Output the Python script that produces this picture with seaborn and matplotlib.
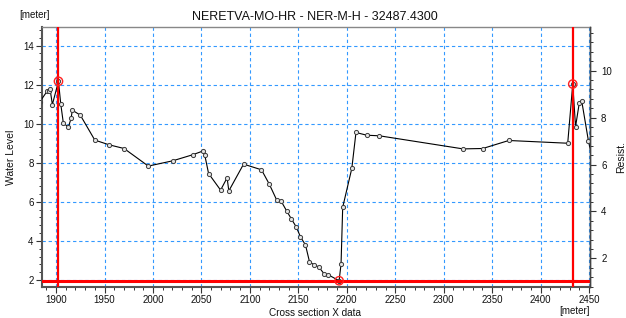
import matplotlib
matplotlib.use('Agg')
import matplotlib.pyplot as plt
import seaborn as sns
import pandas as pd
from matplotlib.ticker import MultipleLocator

# ---- data ----
station_x = [1883, 1891, 1893, 1893.8, 1896.2, 1902.5, 1904.8, 1907.5, 1912.7, 1915.5,
             1916.8, 1925, 1940, 1954.7, 1970.2, 1995.2, 2020.4, 2041, 2052, 2053.4,
             2057.4, 2069.8, 2076.5, 2078.3, 2093.5, 2112, 2120.1, 2127.7, 2132.2, 2138,
             2142.9, 2147.8, 2152.2, 2157.4, 2161.5, 2166.7, 2170.9, 2177, 2181.1, 2192.1,
             2194.1, 2195.8, 2205.2, 2209.5, 2220.6, 2233.7, 2320, 2340.3, 2367.2, 2428,
             2433.2, 2436.1, 2440, 2442.5, 2449.4, 2453]
elevation = [11.1, 11.68, 11.68, 11.78, 10.98, 12.17, 11.03, 10.04, 9.82, 10.27,
             10.69, 10.44, 9.16, 8.92, 8.73, 7.83, 8.10, 8.41, 8.61, 8.41,
             7.45, 6.60, 7.23, 6.56, 7.93, 7.64, 6.90, 6.09, 6.04, 5.53,
             5.12, 4.72, 4.21, 3.79, 2.94, 2.75, 2.68, 2.29, 2.26, 1.96,
             2.82, 5.72, 7.71, 9.55, 9.41, 9.38, 8.71, 8.73, 9.14, 9.0,
             12.03, 9.85, 11.08, 11.15, 9.11, 8.3]
marker_x = [1902.5, 2192.1, 2433.2]
marker_y = [12.17, 1.96, 12.03]
bank_x = [1902.4, 2433.2]
water_level = [1.95]
x_ticks = [1900, 1950, 2000, 2050, 2100, 2150, 2200, 2250, 2300, 2350, 2400, 2450]
y_ticks = [2, 4, 6, 8, 10, 12, 14]
resist_ticks = [2, 4, 6, 8, 10]
title = "NERETVA-MO-HR - NER-M-H - 32487.4300"

df = pd.DataFrame({"x": station_x, "z": elevation})

sns.set_theme(style="white")
plt.rcParams['font.family'] = ['Liberation Sans', 'DejaVu Sans']

W, H = 626, 318
fig = plt.figure(figsize=(W / 100, H / 100), dpi=100)
fig.patch.set_facecolor('white')
L, R, T, B = 42, 590, 27, 287
ax = fig.add_axes([L / W, 1 - B / H, (R - L) / W, (B - T) / H])
ax.set_facecolor('white')

ax.set_xlim(1885.5, 2451)
ax.set_ylim(1.64, 14.95)
ax.set_xticks(x_ticks)
ax.set_yticks(y_ticks)
ax.xaxis.set_minor_locator(MultipleLocator(10))
ax.yaxis.set_minor_locator(MultipleLocator(0.4))
ax.grid(True, which='major', color='#3399ff', linestyle=(0, (3, 2.5)), linewidth=0.8, zorder=0)
ax.set_axisbelow(True)

sns.lineplot(data=df, x="x", y="z", ax=ax, sort=False, estimator=None,
             color='black', linewidth=0.8, marker='o', markersize=3.0,
             markerfacecolor='#e4e4e4', markeredgecolor='#3a3a3a',
             markeredgewidth=0.7, zorder=3)

for bx in bank_x:
    ax.axvline(bx, color='#ff0000', linewidth=1.6, zorder=4)
for wl in water_level:
    ax.axhline(wl, color='#ff0000', linewidth=2.2, zorder=4)

ax.scatter(marker_x, marker_y, s=36, facecolors='none', edgecolors='#ff2020',
           linewidths=1.0, zorder=5)

ax.set_xlabel("")
ax.set_ylabel("")
ax.tick_params(axis='both', which='major', direction='out', length=4, width=0.8,
               color='#333333', labelsize=7, labelcolor='#111111', pad=2,
               left=True, bottom=True)
ax.tick_params(axis='both', which='minor', direction='out', length=2.5, width=0.7,
               color='#333333', left=True, bottom=True)

for side in ['left', 'bottom']:
    ax.spines[side].set_color('#555555')
    ax.spines[side].set_linewidth(1.5)
ax.spines['top'].set_color('#888888')
ax.spines['top'].set_linewidth(1.0)
ax.spines['right'].set_color('#444444')
ax.spines['right'].set_linewidth(1.0)

ax2 = ax.twinx()
ax2.set_ylim(0.78, 11.86)
ax2.set_yticks(resist_ticks)
ax2.yaxis.set_minor_locator(MultipleLocator(0.4))
ax2.grid(False)
ax2.tick_params(axis='y', which='major', direction='out', length=4, width=0.8,
                color='#333333', labelsize=7, labelcolor='#111111', pad=4, right=True)
ax2.tick_params(axis='y', which='minor', direction='out', length=2.5, width=0.7,
                color='#333333', right=True)
for side in ['left', 'top', 'bottom']:
    ax2.spines[side].set_visible(False)
ax2.spines['right'].set_color('#444444')
ax2.spines['right'].set_linewidth(1.0)

def ftext(px, py, s, **kw):
    fig.text(px / W, 1 - py / H, s, **kw)

ftext(315, 17.5, title, ha='center', va='center', fontsize=9, color='#111111')
ftext(35, 15, "[meter]", ha='center', va='center', fontsize=7, color='#111111')
ftext(575, 311, "[meter]", ha='center', va='center', fontsize=7, color='#111111')
ftext(315, 312.5, "Cross section X data", ha='center', va='center', fontsize=7.2, color='#111111')
ftext(11, 157, "Water Level", ha='center', va='center', rotation=90, fontsize=7.5, color='#111111')
ftext(621, 157, "Resist.", ha='center', va='center', rotation=90, fontsize=7.5, color='#111111')

fig.savefig("out.png", dpi=100, facecolor='white')
